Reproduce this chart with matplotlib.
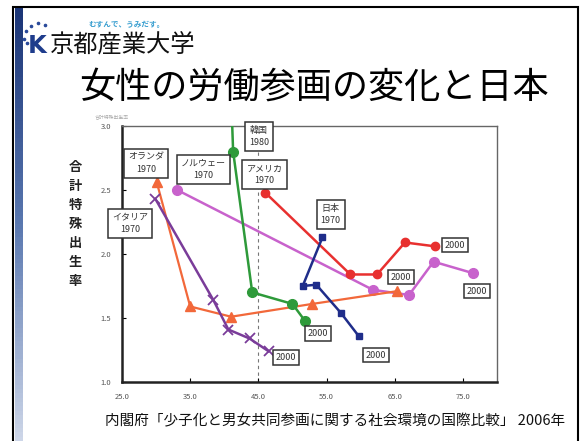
import numpy as np
import matplotlib
matplotlib.use("Agg")
import matplotlib.pyplot as plt
from matplotlib.patches import Rectangle
from matplotlib.colors import LinearSegmentedColormap

plt.rcParams['font.family'] = ['Noto Sans CJK JP', 'DejaVu Sans']

# 女性労働力率(%) と 合計特殊出生率
nl_x = [30.1, 35.0, 41.0, 52.9, 65.4]
nl_y = [2.56, 1.59, 1.51, 1.61, 1.71]

no_x = [33.1, 61.8, 67.1, 70.7, 76.5]
no_y = [2.50, 1.72, 1.68, 1.94, 1.85]

us_x = [46.0, 58.5, 62.4, 66.5, 70.9]
us_y = [2.48, 1.84, 1.84, 2.09, 2.06]

kr_x = [40.9, 41.3, 44.1, 50.0, 51.8]
kr_y = [3.40, 2.80, 1.70, 1.61, 1.48]

jp_x = [54.4, 51.5, 53.5, 57.1, 59.7]
jp_y = [2.13, 1.75, 1.76, 1.54, 1.36]

it_x = [29.9, 38.4, 40.6, 43.7, 46.5]
it_y = [2.43, 1.64, 1.41, 1.34, 1.24]

xticks = [25.0, 35.0, 45.0, 55.0, 65.0, 75.0]
yticks = [1.0, 1.5, 2.0, 2.5, 3.0]

# 国名ラベル (文字, x, y)
start_labels = [("韓国\n1980", 45.1, 2.92), ("アメリカ\n1970", 45.9, 2.62),
                ("オランダ\n1970", 28.5, 2.71), ("ノルウェー\n1970", 36.9, 2.66),
                ("イタリア\n1970", 26.2, 2.24), ("日本\n1970", 55.6, 2.31)]
end_labels = [(73.8, 2.07), (65.9, 1.82), (77.1, 1.71),
              (53.7, 1.38), (62.2, 1.21), (49.0, 1.19)]

W, H = 586, 441
fig = plt.figure(figsize=(W / 100, H / 100), dpi=100)
fig.patch.set_facecolor('white')

# スライド枠と左の帯
fig.patches.append(Rectangle((13 / W, -0.05), 565 / W, (441 - 7) / H + 0.05,
                             transform=fig.transFigure, fill=False,
                             edgecolor='black', lw=1.5, zorder=0))
strip = fig.add_axes([14.5 / W, 0, 8 / W, (441 - 8) / H])
cmap = LinearSegmentedColormap.from_list('strip', ['#1b3577', '#5a78b0', '#cdd6e8'])
strip.imshow(np.linspace(0, 1, 100).reshape(-1, 1), aspect='auto', cmap=cmap)
strip.axis('off')

# ロゴ
fig.text(28 / W, 1 - 46 / H, "K", fontsize=17.5, fontweight='bold', color='#1e3c8c',
         family='DejaVu Sans', va='center', ha='left')
for px, py in [(26, 31), (31, 26), (38, 23), (45, 25), (24, 39), (27, 43)]:
    fig.add_artist(plt.Line2D([px / W], [1 - py / H], marker='o', ms=1.6,
                              color='#2a4a9a', transform=fig.transFigure))
fig.text(88 / W, 1 - 24 / H, "むすんで、うみだす。", fontsize=5.5, color='#3a9fd0',
         va='center', ha='left', fontweight='bold')
fig.text(50 / W, 1 - 45 / H, "京都産業大学", fontsize=17.5, color='#111111',
         va='center', ha='left')

fig.text(314 / W, 1 - 88 / H, "女性の労働参画の変化と日本", fontsize=26,
         color='black', va='center', ha='center')

fig.text(335 / W, 1 - 421 / H,
         "内閣府「少子化と男女共同参画に関する社会環境の国際比較」 2006年",
         fontsize=10.5, color='#111111', va='center', ha='center')

# 縦書きの軸ラベル
for i, ch in enumerate("合計特殊出生率"):
    fig.text(75 / W, 1 - (167 + i * 19) / H, ch, fontsize=9.5, color='#222222',
             va='center', ha='center', fontweight='bold')
fig.text(95 / W, 1 - 117 / H, "合計特殊出生率", fontsize=3.5, color='#aaaaaa',
         va='center', ha='left')

ax = fig.add_axes([122 / W, 59 / H, 375 / W, 256 / H])
ax.set_xlim(25, 80)
ax.set_ylim(1.0, 3.0)
ax.set_xticks(xticks)
ax.set_yticks(yticks)
ax.set_xticklabels([f"{v:.1f}" for v in xticks])
ax.set_yticklabels([f"{v:.1f}" for v in yticks])
ax.tick_params(direction='in', length=3, labelsize=5.5, labelcolor='#555555',
               pad=8, width=0.8)
for s in ['left', 'bottom']:
    ax.spines[s].set_linewidth(1.8)
    ax.spines[s].set_color('#222222')
for s in ['top', 'right']:
    ax.spines[s].set_linewidth(1.0)
    ax.spines[s].set_color('#666666')

ax.axvline(45, color='#777777', lw=0.8, ls=(0, (3, 3)), zorder=1)

ax.plot(no_x, no_y, color='#c862cc', lw=1.8, marker='o', ms=7, zorder=3)
ax.plot(nl_x, nl_y, color='#f2683a', lw=1.6, marker='^', ms=7, zorder=3)
ax.plot(us_x, us_y, color='#e8302f', lw=1.8, marker='o', ms=6, zorder=3)
ax.plot(kr_x, kr_y, color='#2e9a3a', lw=1.8, marker='o', ms=7, zorder=3)
ax.plot(jp_x, jp_y, color='#1f2d8a', lw=1.8, marker='s', ms=5, zorder=3)
ax.plot(it_x, it_y, color='#7a3c99', lw=1.8, marker='x', ms=7, mew=1.3, zorder=3)

box = dict(boxstyle='square,pad=0.45', fc='white', ec='#333333', lw=1.1)
for txt, x, y in start_labels:
    ax.text(x, y, txt, fontsize=6.5, color='#333333', ha='center', va='center',
            linespacing=1.4, bbox=box, zorder=5, clip_on=False)
for x, y in end_labels:
    ax.text(x, y, "2000", fontsize=6.5, color='#333333', ha='center', va='center',
            bbox=dict(boxstyle='square,pad=0.3', fc='white', ec='#333333', lw=1.1),
            zorder=5, clip_on=False)

fig.savefig("out.png", dpi=100)
